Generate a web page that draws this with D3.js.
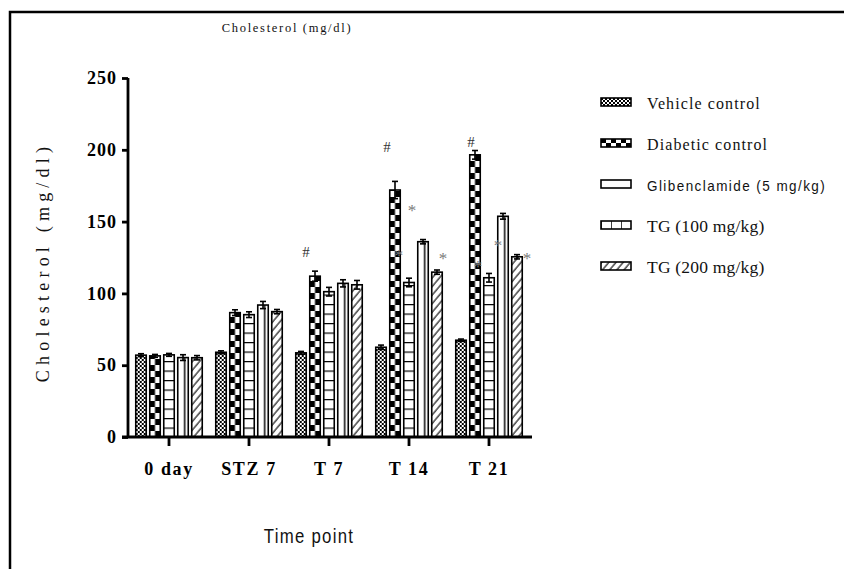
<!DOCTYPE html>
<html>
<head>
<meta charset="utf-8">
<script src="https://cdn.jsdelivr.net/npm/d3@7"></script>
<style>
  html, body { margin: 0; padding: 0; background: #fff; }
  svg { display: block; }
</style>
</head>
<body>
<svg id="chart" width="844" height="569"></svg>
<script>
// Serum cholesterol by treatment group over the study time points
const categories = ["0 day", "STZ 7", "T 7", "T 14", "T 21"];
const seriesNames = ["Vehicle control", "Diabetic control", "Glibenclamide (5 mg/kg)", "TG (100 mg/kg)", "TG (200 mg/kg)"];

const vehicleMean  = [57.0, 59.0, 58.6, 62.5, 67.4];
const vehicleErr   = [1.0, 1.0, 1.0, 1.5, 0.8];
const diabeticMean = [56.5, 86.6, 112.0, 172.0, 196.5];
const diabeticErr  = [1.0, 2.0, 3.5, 6.0, 3.0];
const glibMean     = [57.2, 85.2, 101.2, 107.6, 110.9];
const glibErr      = [1.0, 2.0, 3.0, 3.0, 3.0];
const tg100Mean    = [55.3, 91.9, 107.0, 136.0, 153.7];
const tg100Err     = [2.0, 2.5, 2.5, 1.5, 2.0];
const tg200Mean    = [55.2, 87.3, 106.0, 114.8, 125.5];
const tg200Err     = [1.5, 1.5, 3.0, 1.5, 1.5];

const yTicks = [0, 50, 100, 150, 200, 250];

// significance marks: group, series, value level where the mark sits
const hashMarks = [
  { cat: "T 7",  series: 1, at: 129,   dx: -9 },
  { cat: "T 14", series: 1, at: 202,   dx: -8 },
  { cat: "T 21", series: 1, at: 205.5, dx: -4 }
];
const starMarks = [
  { cat: "T 14", series: 2, at: 159,   dx: 3 },
  { cat: "T 14", series: 1, at: 128,   dx: 4 },
  { cat: "T 14", series: 4, at: 125.7, dx: 6 },
  { cat: "T 21", series: 1, at: 120,   dx: 3 },
  { cat: "T 21", series: 3, at: 135,   dx: -5 },
  { cat: "T 21", series: 4, at: 125.7, dx: 10 }
];

const means = [vehicleMean, diabeticMean, glibMean, tg100Mean, tg200Mean];
const errs  = [vehicleErr, diabeticErr, glibErr, tg100Err, tg200Err];

const SERIF = "Liberation Serif, Times New Roman, serif";
const SANS = "Liberation Sans, Arial, sans-serif";

const svg = d3.select("#chart");
const defs = svg.append("defs");

// outer frame (left and top edges)
svg.append("path")
  .attr("d", "M10,569 V12 H844")
  .attr("fill", "none").attr("stroke", "#000").attr("stroke-width", 2.5);

const y = d3.scaleLinear().domain([0, 250]).range([437, 78]);
const x0 = d3.scaleBand().domain(categories).range([129, 529]).paddingInner(0).paddingOuter(0);
const x1 = d3.scaleBand().domain(d3.range(seriesNames.length)).range([-33.25, 33.25]).paddingInner(0.25).paddingOuter(0);
const bw = x1.bandwidth();

const barData = [];
categories.forEach((c, gi) => {
  means.forEach((m, si) => {
    barData.push({ cat: c, gi, si, v: m[gi], e: errs[si][gi] });
  });
});
const barX = d => x0(d.cat) + x0.bandwidth() / 2 + x1(d.si);

// fill patterns, anchored at each bar's left edge and baseline
function makePattern(id, si, ox, oy, w, legend) {
  let p;
  if (si === 0) {
    p = defs.append("pattern").attr("id", id).attr("patternUnits", "userSpaceOnUse")
      .attr("x", ox).attr("y", oy).attr("width", 4).attr("height", 4);
    p.append("rect").attr("width", 4).attr("height", 4).attr("fill", "#fff");
    p.append("rect").attr("x", 0).attr("y", 0).attr("width", 2).attr("height", 2).attr("fill", "#000");
    p.append("rect").attr("x", 2).attr("y", 2).attr("width", 2).attr("height", 2).attr("fill", "#000");
  } else if (si === 1) {
    const cw = legend ? 5 : w / 2, ch = legend ? 4 : 6;
    p = defs.append("pattern").attr("id", id).attr("patternUnits", "userSpaceOnUse")
      .attr("x", ox).attr("y", oy).attr("width", cw * 2).attr("height", ch * 2);
    p.append("rect").attr("width", cw * 2).attr("height", ch * 2).attr("fill", "#fff");
    p.append("rect").attr("x", 0).attr("y", 0).attr("width", cw).attr("height", ch).attr("fill", "#000");
    p.append("rect").attr("x", cw).attr("y", ch).attr("width", cw).attr("height", ch).attr("fill", "#000");
  } else if (si === 2) {
    p = defs.append("pattern").attr("id", id).attr("patternUnits", "userSpaceOnUse")
      .attr("x", ox).attr("y", oy).attr("width", 20).attr("height", legend ? 40 : 9.5);
    p.append("rect").attr("width", 20).attr("height", 40).attr("fill", "#fff");
    if (!legend) p.append("line").attr("x1", 0).attr("x2", 20).attr("y1", 0.6).attr("y2", 0.6)
      .attr("stroke", "#000").attr("stroke-width", 1.2);
  } else if (si === 3) {
    const pw = legend ? 10 : w;
    const lx = legend ? 0 : 7;
    p = defs.append("pattern").attr("id", id).attr("patternUnits", "userSpaceOnUse")
      .attr("x", ox).attr("y", oy).attr("width", pw).attr("height", 10);
    p.append("rect").attr("width", pw).attr("height", 10).attr("fill", "#fff");
    p.append("line").attr("x1", lx).attr("x2", lx).attr("y1", 0).attr("y2", 10)
      .attr("stroke", "#000").attr("stroke-width", 1.5);
  } else {
    p = defs.append("pattern").attr("id", id).attr("patternUnits", "userSpaceOnUse")
      .attr("x", ox).attr("y", oy).attr("width", 5.5).attr("height", 10)
      .attr("patternTransform", "rotate(40)");
    p.append("rect").attr("width", 5.5).attr("height", 10).attr("fill", "#fff");
    p.append("line").attr("x1", 1).attr("x2", 1).attr("y1", 0).attr("y2", 10)
      .attr("stroke", "#000").attr("stroke-width", 1.1);
  }
  return id;
}

barData.forEach(d => {
  d.pid = makePattern(`bar-${d.gi}-${d.si}`, d.si, barX(d), y(0), bw, false);
});

// bars
svg.append("g").selectAll("rect").data(barData).join("rect")
  .attr("x", d => barX(d))
  .attr("y", d => y(d.v))
  .attr("width", bw)
  .attr("height", d => y(0) - y(d.v))
  .attr("fill", d => `url(#${d.pid})`)
  .attr("stroke", "#000").attr("stroke-width", 1.6);

// error bars
const eg = svg.append("g").attr("stroke", "#000").attr("stroke-width", 1.6).attr("fill", "none");
barData.forEach(d => {
  const cx = barX(d) + bw / 2;
  eg.append("line").attr("x1", cx).attr("x2", cx).attr("y1", y(d.v + d.e)).attr("y2", y(d.v - d.e));
  eg.append("line").attr("x1", cx - 3).attr("x2", cx + 3).attr("y1", y(d.v + d.e)).attr("y2", y(d.v + d.e));
  eg.append("line").attr("x1", cx - 3).attr("x2", cx + 3).attr("y1", y(d.v - d.e)).attr("y2", y(d.v - d.e));
});

// significance marks
const markX = m => x0(m.cat) + x0.bandwidth() / 2 + x1(m.series) + bw / 2 + m.dx;
svg.append("g").selectAll("text").data(hashMarks).join("text")
  .attr("x", markX).attr("y", m => y(m.at)).attr("dy", "0.34em")
  .attr("text-anchor", "middle")
  .attr("font-family", SERIF)
  .attr("font-size", 15).attr("fill", "#333").text("#");
svg.append("g").selectAll("text").data(starMarks).join("text")
  .attr("x", markX).attr("y", m => y(m.at)).attr("dy", "0.45em")
  .attr("text-anchor", "middle")
  .attr("font-family", SERIF)
  .attr("font-size", 17).attr("fill", "#7a7a7a").text("*");

// y axis
const yAxis = svg.append("g").attr("transform", "translate(128,0)")
  .call(d3.axisLeft(y).tickValues(yTicks).tickSize(6).tickPadding(5).tickFormat(d3.format("d")));
yAxis.select(".domain").attr("stroke-width", 2.8).attr("d", `M0,${y(250)}V${y(0)}`);
yAxis.selectAll(".tick line").attr("stroke-width", 2.8);
yAxis.selectAll(".tick text")
  .attr("font-family", SERIF)
  .attr("font-weight", "bold").attr("font-size", 18)
  .attr("letter-spacing", 1).attr("fill", "#000");

// x axis
const xAxis = svg.append("g").attr("transform", `translate(0,${y(0)})`)
  .call(d3.axisBottom(x0).tickSize(9).tickSizeOuter(0).tickPadding(16));
xAxis.select(".domain").attr("stroke-width", 2.8).attr("d", "M122,0H532");
xAxis.selectAll(".tick line").attr("stroke-width", 2.8);
xAxis.selectAll(".tick text")
  .attr("font-family", SERIF)
  .attr("font-weight", "bold").attr("font-size", 18)
  .attr("letter-spacing", 1.6).attr("fill", "#000");

// titles
svg.append("text").attr("x", 287).attr("y", 32).attr("text-anchor", "middle")
  .attr("font-family", SERIF)
  .attr("font-size", 12.5).attr("letter-spacing", 1.7).attr("fill", "#111")
  .text("Cholesterol (mg/dl)");

svg.append("text").attr("transform", "translate(49,262) rotate(-90)")
  .attr("text-anchor", "middle")
  .attr("font-family", SERIF)
  .attr("font-size", 18).attr("letter-spacing", 5.2).attr("fill", "#111")
  .text("Cholesterol (mg/dl)");

svg.append("text").attr("transform", "translate(309,543) scale(0.84,1)").attr("text-anchor", "middle")
  .attr("font-family", SANS)
  .attr("font-size", 20).attr("letter-spacing", 1.5).attr("fill", "#111")
  .text("Time point");

// legend
const legendFonts = [
  { fam: SERIF, size: 16, ls: 1.1, sx: 1 },
  { fam: SERIF, size: 16, ls: 1.1, sx: 1 },
  { fam: SANS, size: 15, ls: 1.6, sx: 0.9 },
  { fam: SERIF, size: 17.5, ls: 0.2, sx: 1 },
  { fam: SERIF, size: 17.5, ls: 0.2, sx: 1 }
];
const legendY = d3.scalePoint().domain(d3.range(seriesNames.length)).range([103, 267]);
const lg = svg.append("g");
seriesNames.forEach((name, si) => {
  const cy = legendY(si);
  const pid = makePattern(`leg-${si}`, si, 601, cy - 5, 30, true);
  lg.append("rect").attr("x", 601).attr("y", cy - 5).attr("width", 30).attr("height", 8)
    .attr("fill", `url(#${pid})`).attr("stroke", "#000").attr("stroke-width", 1.6);
  const f = legendFonts[si];
  lg.append("text").attr("transform", `translate(647,${cy + 5.5}) scale(${f.sx},1)`)
    .attr("font-family", f.fam).attr("font-size", f.size).attr("letter-spacing", f.ls)
    .attr("fill", "#111").text(name);
});
</script>
</body>
</html>
